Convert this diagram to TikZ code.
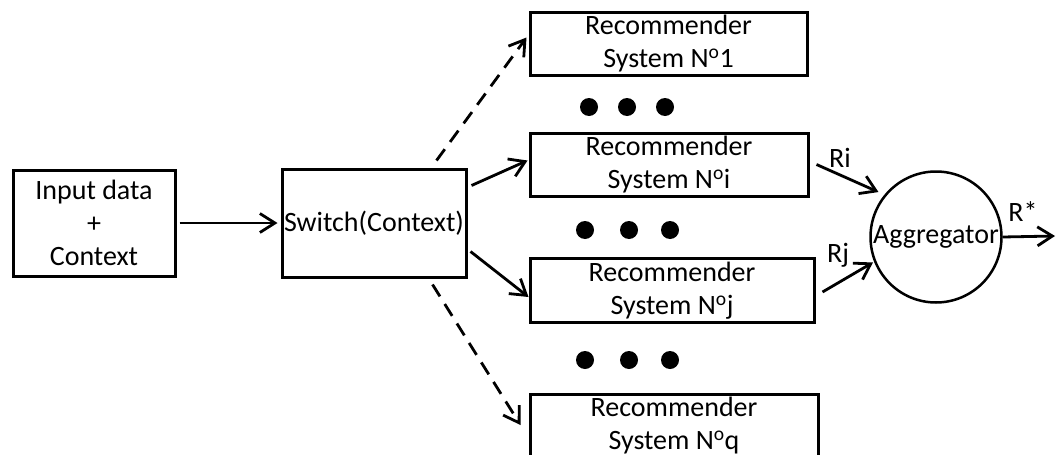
\documentclass[tikz,border=0pt]{standalone}
\usepackage{fontspec}
\setmainfont{Carlito}
\usetikzlibrary{arrows.meta,calc}
\begin{document}
\begin{tikzpicture}[x=1pt,y=-1pt,
  txt/.style={font=\fontsize{28}{33}\selectfont},
  box/.style={txt,draw,line width=3pt,inner sep=0pt,align=center},
  lbl/.style={txt,inner sep=0pt},
  arr/.style={line width=2.8pt,-{Straight Barb[length=15pt,width=19pt,line width=2.8pt]}},
  dsh/.style={arr,dash pattern=on 14pt off 9pt},
  dotmark/.style={fill=black}]
\useasboundingbox (0,0) rectangle (1058,455);
\fill[white] (0,0) rectangle (1058,455);

\node[box,minimum width=162pt,minimum height=106pt] (in1) at (94,223) {Input data\\+\\Context};
\node[box,minimum width=184pt,minimum height=108pt] (sw) at (374,223) {Switch(Context)};
\node[box,minimum width=277pt,minimum height=63pt] (rs1) at (668.5,43.5) {Recommender\\System N\textsuperscript{o}1};
\node[box,minimum width=278pt,minimum height=63pt] (rsi) at (669,164.5) {Recommender\\System N\textsuperscript{o}i};
\node[box,minimum width=284pt,minimum height=64pt] (rsj) at (672,290.5) {Recommender\\System N\textsuperscript{o}j};
\node[box,minimum width=288pt,minimum height=64pt] (rsq) at (674,426) {Recommender\\System N\textsuperscript{o}q};
\node[txt,draw,circle,line width=2.5pt,inner sep=0pt,minimum size=131pt] (agg) at (936,237) {Aggregator};
\coordinate (outend) at (1055,236);

\foreach \x in {589,627,665} \fill[dotmark] (\x,107) circle[radius=9pt];
\foreach \x in {585,629,670} \fill[dotmark] (\x,230) circle[radius=9pt];
\foreach \x in {585,629,670} \fill[dotmark] (\x,360) circle[radius=9pt];

\draw[arr] ([xshift=3pt]in1.east) -- ([xshift=-3pt]sw.west);
\draw[dsh] ([xshift=-31pt,yshift=7pt]sw.north east) -- ([xshift=-2pt,yshift=-27pt]rs1.north west);
\draw[arr] ([xshift=4pt,yshift=-18pt]sw.north east) -- ([xshift=-1pt,yshift=4pt]rsi.west);
\draw[arr] ([xshift=3pt,yshift=27pt]sw.south east) -- ([yshift=-6.5pt]rsj.west);
\draw[dsh] ([xshift=-35pt,yshift=-6pt]sw.south east) -- ([xshift=-8pt,yshift=1pt]rsq.west);
\draw[arr] ([xshift=7pt]rsi.east) -- ($(agg.center)!73pt!(agg.142)$);
\draw[arr] ([xshift=7pt,yshift=-1.5pt]rsj.east) -- ($(agg.center)!68pt!(agg.202)$);
\draw[arr] (agg.east) -- (outend);

\node[lbl] (ri) at (840,158) {Ri};
\node[lbl] (rj) at (838,255) {Rj};
\node[lbl] (rstar) at (1023,212) {R*};
\end{tikzpicture}
\end{document}
